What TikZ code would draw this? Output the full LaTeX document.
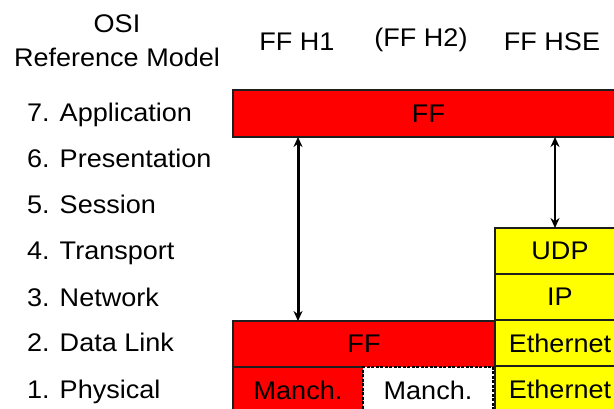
\documentclass[tikz,border=0pt]{standalone}
\usepackage{fontspec}
\setmainfont{Liberation Sans}[FakeStretch=1.06]
\usetikzlibrary{arrows.meta}
\definecolor{ffred}{RGB}{255,0,0}
\definecolor{hseyellow}{RGB}{255,255,0}
\definecolor{edgegray}{RGB}{30,30,30}
\tikzset{
  txt/.style={font=\fontsize{25.5}{25.5}\selectfont, inner sep=0pt},
  layerlabel/.style={txt, anchor=base west},
  colhead/.style={txt, anchor=base},
  area/.style={txt, anchor=north west, minimum height=46pt, outer sep=0pt},
  block/.style={area, draw=edgegray, line width=1.3pt},
  ffblock/.style={block, fill=ffred},
  hseblock/.style={block, fill=hseyellow, minimum width=130pt},
  solidedge/.style={draw=edgegray, line width=1.3pt},
  optedge/.style={draw=black, line width=2pt, dash pattern=on 3pt off 1.5pt},
  peer/.style={{Stealth[length=10pt,width=9pt]}-{Stealth[length=10pt,width=9pt]}, draw=black}
}
\begin{document}
\begin{tikzpicture}[x=1pt,y=-1pt]
\useasboundingbox (0,0) rectangle (614,409);
\clip (0,0) rectangle (614,409);

% column headings
\node[colhead] (osi) at (117,33) {OSI};
\node[colhead] (refmodel) at (117,67) {Reference Model};
\node[colhead] (h1) at (297,51) {FF H1};
\node[colhead] (h2) at (421,47) {(FF H2)};
\node[colhead] (hse) at (552,51) {FF HSE};

% OSI layer names
\node[layerlabel] (l7) at (27,122) {7. Application};
\node[layerlabel] (l6) at (27,168) {6. Presentation};
\node[layerlabel] (l5) at (27,214) {5. Session};
\node[layerlabel] (l4) at (27,260) {4. Transport};
\node[layerlabel] (l3) at (27,306) {3. Network};
\node[layerlabel] (l2) at (27,352) {2. Data Link};
\node[layerlabel] (l1) at (27,398) {1. Physical};

% application layer shared by all columns
\node[ffblock, minimum width=391pt, minimum height=47pt] (app) at (233,90) {FF};

% H1 / H2 data link and physical layers
\node[area, fill=ffred, minimum width=262pt] (dl) at (233,321) {FF};
\node[area, fill=ffred, minimum width=130pt] (manchA) at (233,367) {Manch.};
\node[area, fill=white, minimum width=130pt] (manchB) at (363,367) {Manch.};
\draw[solidedge] (dl.north east) -- (dl.north west) -- (manchA.south west);
\draw[solidedge] (dl.south west) -- (manchA.north east);
\draw[optedge] (manchB.south west) -- (manchB.north west) -- (manchB.north east) -- (manchB.south east);

% HSE stack
\node[hseblock] (udp) at (495,228) {UDP};
\node[hseblock] (ip) at (495,274) {IP};
\node[hseblock] (eth2) at (495,320) {Ethernet};
\node[hseblock] (eth1) at (495,366) {Ethernet};

% peer connections
\coordinate (xh1) at (298,0);
\coordinate (xhse) at (555,0);
\draw[peer, line width=3pt] (app.south -| xh1) -- (dl.north -| xh1);
\draw[peer, line width=2pt] (app.south -| xhse) -- (udp.north -| xhse);
\end{tikzpicture}
\end{document}
